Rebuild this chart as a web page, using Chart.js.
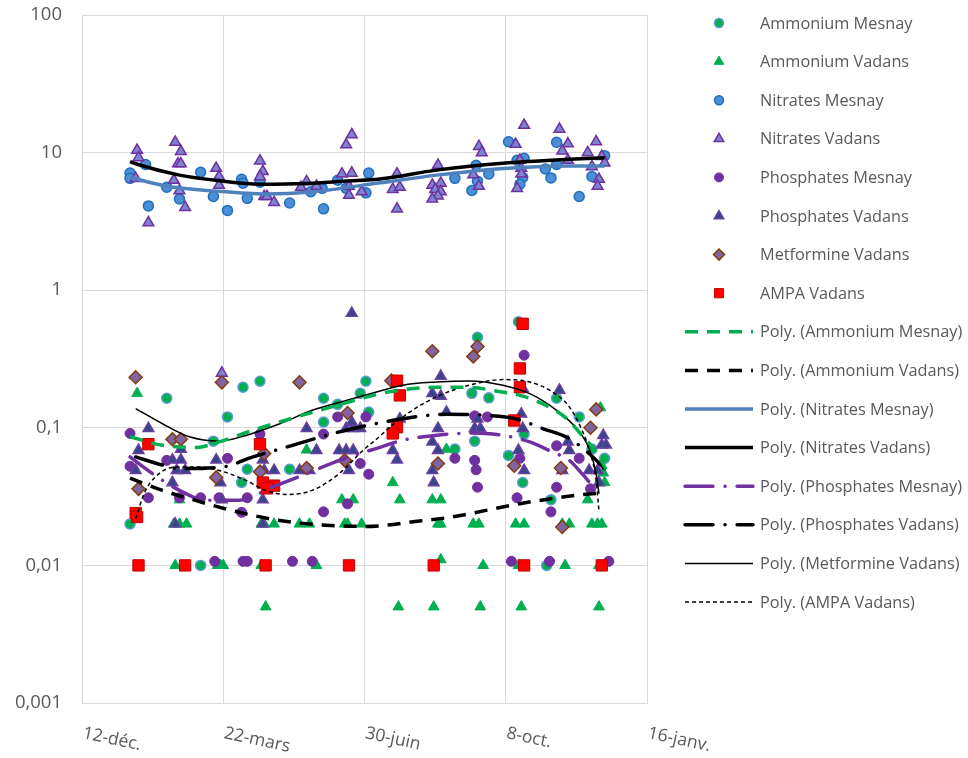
<!DOCTYPE html>
<html><head><meta charset="utf-8">
<script src="https://cdn.jsdelivr.net/npm/chart.js@4.4.1/dist/chart.umd.min.js"></script>
<style>html,body{margin:0;padding:0;background:#fff;}canvas{display:block;}</style>
</head><body>
<canvas id="c" width="968" height="758"></canvas>
<script>
// x = days after 12-déc.
const xTickDays = [0, 100, 200, 300, 400];
const xTickLabels = ['12-déc.', '22-mars', '30-juin', '8-oct.', '16-janv.'];
const yTickValues = [0.001, 0.01, 0.1, 1, 10, 100];
const yTickLabels = ['0,001', '0,01', '0,1', '1', '10', '100'];

const ammMesnayDays = [34,60,126,114,103,93,117,113,84,171,171,181,197,201,203,147,280,276,288,278,264,309,313,312,302,336,352,332,329,361,370];
const ammMesnayVals = [0.02,0.164,0.218,0.197,0.12,0.08,0.05,0.04,0.01,0.164,0.11,0.148,0.178,0.218,0.13,0.05,0.455,0.178,0.165,0.08,0.07,0.59,0.09,0.04,0.063,0.164,0.12,0.03,0.01,0.07,0.06];

const ammVadansDays = [39,65,69,74,66,69,96,98,100,127,129,136,127,130,154,161,166,159,184,192,186,188,198,220,225,224,248,254,258,252,254,254,249,277,281,284,282,307,313,309,311,340,345,342,358,370,369,361,365,368,366,366,367];
const ammVadansVals = [0.178,0.02,0.02,0.02,0.01,0.03,0.01,0.01,0.01,0.02,0.02,0.02,0.01,0.005,0.02,0.02,0.01,0.069,0.03,0.03,0.02,0.02,0.02,0.04,0.03,0.005,0.03,0.03,0.07,0.02,0.02,0.011,0.005,0.02,0.02,0.01,0.005,0.02,0.02,0.01,0.005,0.02,0.02,0.01,0.03,0.04,0.047,0.02,0.02,0.02,0.01,0.005,0.14];

const nitMesnayDays = [34,34,45,47,60,69,84,93,103,113,114,117,126,147,162,170,171,181,187,201,203,264,276,279,280,288,302,308,313,312,310,328,332,336,336,352,361,370];
const nitMesnayVals = [7.1,6.5,8.2,4.1,5.6,4.6,7.2,4.8,3.8,6.4,6.0,4.65,6.1,4.3,5.2,5.5,3.9,6.3,5.5,5.1,7.1,6.5,5.3,8.1,6.2,7.0,12.0,8.8,9.1,6.6,5.9,7.6,6.55,11.9,8.2,4.8,6.7,9.5];

const nitVadansDays = [39,40,38,47,66,70,68,70,65,69,73,95,97,97,126,128,126,129,131,136,159,155,166,184,191,187,191,189,198,189,99,223,220,225,223,252,248,254,250,254,252,248,281,283,277,281,307,313,310,311,311,308,338,344,340,344,358,364,361,366,365,368,370];
const nitVadansVals = [10.4,9.2,6.5,3.1,11.9,10.2,8.3,8.3,6.3,5.3,4.0,7.7,6.7,5.8,8.7,7.3,6.7,4.8,4.8,4.35,6.15,5.6,5.7,7.0,7.1,11.4,13.5,4.9,5.2,5.7,0.25,7.0,5.4,5.6,3.9,8.1,5.8,6.0,5.4,5.2,4.85,4.6,11.1,10.0,6.9,5.7,11.5,15.8,8.8,7.7,7.0,5.5,14.8,11.6,10.3,8.8,10.0,12.0,7.9,6.4,5.7,9.4,8.4];

const phosMesnayDays = [34,34,47,60,69,84,97,103,94,114,117,113,126,117,149,163,171,171,181,188,197,203,201,264,278,279,280,278,287,304,308,310,313,336,336,332,331,352,360,373];
const phosMesnayVals = [0.091,0.0525,0.031,0.058,0.031,0.031,0.031,0.06,0.0107,0.0107,0.0107,0.0243,0.09,0.031,0.0107,0.0107,0.0245,0.09,0.12,0.028,0.055,0.046,0.12,0.06,0.058,0.0495,0.037,0.122,0.12,0.0107,0.031,0.06,0.337,0.074,0.037,0.0245,0.0107,0.06,0.036,0.0107];

const phosVadansDays = [47,40,38,64,70,70,67,73,64,66,95,98,99,128,129,136,128,128,159,166,154,161,191,187,192,197,182,187,192,191,189,225,220,223,254,248,254,258,252,248,252,248,249,278,282,280,311,312,309,313,312,338,344,345,340,369,368,371,359,365,366];
const phosVadansVals = [0.099,0.0686,0.049,0.0585,0.0585,0.07,0.049,0.049,0.04,0.02,0.0585,0.04,0.03,0.0585,0.049,0.049,0.03,0.02,0.099,0.0686,0.049,0.049,0.68,0.099,0.099,0.099,0.0686,0.0686,0.0686,0.11,0.049,0.116,0.0686,0.0585,0.237,0.178,0.17,0.13,0.099,0.079,0.0686,0.049,0.04,0.099,0.099,0.116,0.126,0.099,0.0686,0.049,0.194,0.188,0.079,0.0686,0.049,0.088,0.075,0.075,0.049,0.049,0.04];

const metfVadansDays = [38,64,70,40,99,95,126,129,154,159,188,186,219,248,280,277,252,306,339,340,364,360];
const metfVadansVals = [0.233,0.0825,0.0825,0.036,0.214,0.0436,0.048,0.065,0.214,0.051,0.128,0.058,0.22,0.36,0.39,0.33,0.055,0.053,0.051,0.019,0.136,0.1];

const ampaVadansDays = [47,38,39,40,73,126,128,136,131,130,189,223,225,223,220,249,312,310,310,306,313,368];
const ampaVadansVals = [0.076,0.024,0.0225,0.01,0.01,0.076,0.04,0.038,0.0363,0.01,0.01,0.22,0.172,0.101,0.091,0.01,0.57,0.27,0.197,0.113,0.01,0.01];

// polynomial trend lines
const trendAmmMesDays = [34,57,81,97,121,152,178,211,227,251,274,293,310,326,343,354,364,371];
const trendAmmMesVals = [0.086,0.0746,0.072,0.079,0.096,0.12,0.143,0.177,0.189,0.197,0.197,0.185,0.172,0.15,0.117,0.088,0.0667,0.05];
const trendAmmVadDays = [34,57,76,97,116,140,163,201,239,262,286,310,333,354,370];
const trendAmmVadVals = [0.043,0.0351,0.0306,0.0265,0.0237,0.0212,0.0199,0.0192,0.021,0.0225,0.0251,0.0281,0.0306,0.0327,0.0337];
const trendNitMesDays = [34,60,93,130,163,211,251,298,345,370];
const trendNitMesVals = [6.6,5.7,5.27,5.0,5.19,6.03,6.86,7.67,8.0,8.0];
const trendNitVadDays = [34,38,69,97,126,159,187,211,251,298,345,370];
const trendNitVadVals = [8.6,8.3,6.86,6.25,5.9,5.97,6.21,6.42,7.46,8.36,8.93,9.16];
const trendPhosMesDays = [34,50,69,88,111,135,159,182,208,227,251,274,298,317,333,345,354,364];
const trendPhosMesVals = [0.0614,0.0464,0.0351,0.0297,0.0297,0.0372,0.0464,0.058,0.0706,0.0812,0.0882,0.0915,0.0882,0.0789,0.0667,0.058,0.0464,0.0351];
const trendPhosVadDays = [38,57,69,100,121,149,173,196,211,227,258,286,307,326,345,359,370];
const trendPhosVadVals = [0.0614,0.0536,0.0505,0.052,0.0614,0.0746,0.0882,0.101,0.1087,0.1164,0.1254,0.1233,0.1164,0.0988,0.0835,0.065,0.0505];
const trendMetfDays = [38,57,76,97,116,140,163,187,211,227,251,274,298,317,336,350,359,364,366];
const trendMetfVals = [0.138,0.107,0.086,0.08,0.088,0.107,0.134,0.158,0.185,0.204,0.215,0.219,0.204,0.177,0.134,0.099,0.0706,0.0465,0.0332];
const trendAmpaDays = [38,44,52,67,81,97,116,130,145,163,182,199,211,218,232,251,274,298,317,331,345,354,360,364,366];
const trendAmpaVals = [0.0218,0.0333,0.0441,0.052,0.052,0.049,0.0415,0.0351,0.0328,0.0351,0.0464,0.0686,0.087,0.101,0.13,0.168,0.204,0.224,0.215,0.1875,0.142,0.096,0.065,0.0415,0.025];

const zip = (xs, ys) => xs.map((x, i) => ({x: x, y: ys[i]}));

function pts(label, xs, ys, style, bg, border, r, bw, order) {
  return {label, data: zip(xs, ys), showLine: false, pointStyle: style, pointRadius: r, pointHoverRadius: r,
    backgroundColor: bg, borderColor: border, pointBackgroundColor: bg, pointBorderColor: border, pointBorderWidth: bw, order};
}
function trend(label, xs, ys, color, width, dash, cap) {
  return {label, data: zip(xs, ys), showLine: true, pointRadius: 0, pointHoverRadius: 0, borderColor: color,
    backgroundColor: color, borderWidth: width, borderDash: dash, borderCapStyle: cap || 'butt',
    cubicInterpolationMode: 'monotone', fill: false, order: 0};
}

const datasets = [
  pts('Ammonium Mesnay', ammMesnayDays, ammMesnayVals, 'circle', '#00b050', '#5b9bd5', 5, 1.5, 8),
  pts('Ammonium Vadans', ammVadansDays, ammVadansVals, 'triangle', '#00b050', '#00b050', 6.2, 1, 7),
  pts('Nitrates Mesnay', nitMesnayDays, nitMesnayVals, 'circle', '#4d8fd6', '#1f6fbf', 5, 1.5, 6),
  pts('Nitrates Vadans', nitVadansDays, nitVadansVals, 'triangle', '#7b85cf', '#7030a0', 6.2, 1.5, 5),
  pts('Phosphates Mesnay', phosMesnayDays, phosMesnayVals, 'circle', '#7030a0', '#7030a0', 5, 1, 4),
  pts('Phosphates Vadans', phosVadansDays, phosVadansVals, 'triangle', '#34468a', '#6b3fa0', 6.2, 1.5, 3),
  pts('Metformine Vadans', metfVadansDays, metfVadansVals, 'rectRot', '#8064a2', '#843c0c', 6.5, 1.5, 2),
  pts('AMPA Vadans', ampaVadansDays, ampaVadansVals, 'rect', '#ff0000', '#c00000', 8, 1, 1),
  trend('Poly. (Ammonium Mesnay)', trendAmmMesDays, trendAmmMesVals, '#00b050', 3.5, [13, 9]),
  trend('Poly. (Ammonium Vadans)', trendAmmVadDays, trendAmmVadVals, '#000000', 3.5, [13, 9]),
  trend('Poly. (Nitrates Mesnay)', trendNitMesDays, trendNitMesVals, '#4f81bd', 3.5, []),
  trend('Poly. (Nitrates Vadans)', trendNitVadDays, trendNitVadVals, '#000000', 3.5, []),
  trend('Poly. (Phosphates Mesnay)', trendPhosMesDays, trendPhosMesVals, '#7030a0', 3.5, [28, 12, 0.1, 12], 'round'),
  trend('Poly. (Phosphates Vadans)', trendPhosVadDays, trendPhosVadVals, '#000000', 3.5, [28, 12, 0.1, 12], 'round'),
  trend('Poly. (Metformine Vadans)', trendMetfDays, trendMetfVals, '#000000', 1.5, []),
  trend('Poly. (AMPA Vadans)', trendAmpaDays, trendAmpaVals, '#000000', 1.5, [4, 3])
];

const FONT = '"Open Sans", "Liberation Sans", sans-serif';
const TEXT = '#595959';

function drawMarker(ctx, style, x, y, r) {
  ctx.beginPath();
  if (style === 'circle') ctx.arc(x, y, r, 0, Math.PI * 2);
  else if (style === 'triangle') { ctx.moveTo(x, y - r); ctx.lineTo(x + r * 0.866, y + r * 0.5); ctx.lineTo(x - r * 0.866, y + r * 0.5); ctx.closePath(); }
  else if (style === 'rectRot') { ctx.moveTo(x, y - r); ctx.lineTo(x + r, y); ctx.lineTo(x, y + r); ctx.lineTo(x - r, y); ctx.closePath(); }
  else if (style === 'rect') { const s = r * Math.SQRT1_2; ctx.rect(x - s, y - s, 2 * s, 2 * s); }
  ctx.fill(); ctx.stroke();
}

const customDraw = {
  id: 'customDraw',
  afterDraw(chart) {
    const ctx = chart.ctx;
    const xs = chart.scales.x;
    // x tick labels (rotated clockwise)
    ctx.save();
    ctx.fillStyle = TEXT;
    ctx.font = '17.5px ' + FONT;
    ctx.textAlign = 'left';
    ctx.textBaseline = 'alphabetic';
    xTickDays.forEach((d, i) => {
      const px = xs.getPixelForValue(d);
      ctx.save();
      ctx.translate(px, 738);
      ctx.rotate(12 * Math.PI / 180);
      ctx.fillText(xTickLabels[i], 0, 0);
      ctx.restore();
    });
    ctx.restore();
    // legend
    ctx.save();
    const y0 = 23, step = 38.6;
    chart.data.datasets.forEach((ds, i) => {
      const y = y0 + i * step;
      if (!ds.showLine) {
        ctx.fillStyle = ds.pointBackgroundColor;
        ctx.strokeStyle = ds.pointBorderColor;
        ctx.lineWidth = ds.pointBorderWidth;
        const rr = ds.pointStyle === 'rect' ? 6.5 : (ds.pointStyle === 'rectRot' ? 5.5 : (ds.pointStyle === 'triangle' ? 5.5 : 4.5));
        drawMarker(ctx, ds.pointStyle, 719, y, rr);
      } else {
        ctx.strokeStyle = ds.borderColor;
        ctx.lineWidth = ds.borderWidth;
        ctx.setLineDash(ds.borderDash);
        ctx.lineCap = ds.borderCapStyle;
        ctx.beginPath(); ctx.moveTo(685, y); ctx.lineTo(753, y); ctx.stroke();
        ctx.setLineDash([]);
        ctx.lineCap = 'butt';
      }
      ctx.fillStyle = TEXT;
      ctx.font = '16.3px ' + FONT;
      ctx.textAlign = 'left';
      ctx.textBaseline = 'middle';
      ctx.fillText(ds.label, 760, y + 1);
    });
    ctx.restore();
  }
};

function noPad(s) { s.paddingTop = 0; s.paddingBottom = 0; s.paddingLeft = 0; s.paddingRight = 0; }

new Chart(document.getElementById('c'), {
  type: 'scatter',
  data: {datasets},
  options: {
    responsive: false,
    animation: false,
    devicePixelRatio: 1,
    layout: {padding: {top: 15, right: 321, left: 0, bottom: 0}},
    plugins: {legend: {display: false}, tooltip: {enabled: false}},
    scales: {
      x: {
        type: 'linear', min: 0, max: 400,
        afterBuildTicks: s => { s.ticks = xTickDays.map(v => ({value: v})); },
        afterFit: s => { s.height = 55; noPad(s); },
        ticks: {display: false},
        grid: {color: '#d9d9d9', lineWidth: 1, drawTicks: false},
        border: {color: '#d9d9d9', width: 1}
      },
      y: {
        type: 'logarithmic', min: 0.001, max: 100,
        afterBuildTicks: s => { s.ticks = yTickValues.map(v => ({value: v})); },
        afterFit: s => { s.width = 82; noPad(s); },
        ticks: {callback: (v, i) => yTickLabels[i], color: TEXT, font: {family: FONT, size: 18.5}, padding: 20, autoSkip: false},
        grid: {color: '#d9d9d9', lineWidth: 1, drawTicks: false},
        border: {color: '#d9d9d9', width: 1}
      }
    }
  },
  plugins: [customDraw]
});
</script>
</body></html>
